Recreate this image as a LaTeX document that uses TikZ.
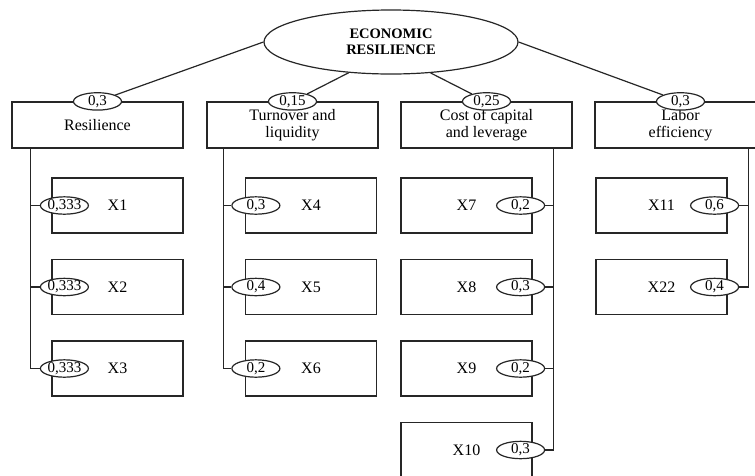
\documentclass[tikz,border=0pt]{standalone}
\usepackage{fontspec}
\setmainfont{Liberation Serif}
\usetikzlibrary{shapes.geometric}

\tikzset{
	link/.style={draw=black!85},
	group/.style={draw=black!85, minimum width=171pt, minimum height=46pt, align=center,
		font=\fontsize{16}{17}\selectfont},
	item/.style={draw=black!85, minimum width=131pt, minimum height=55pt,
		font=\fontsize{16}{17}\selectfont},
	weight/.style={ellipse, draw=black!85, fill=white, minimum width=48pt, minimum height=16pt,
		inner sep=0pt, font=\fontsize{15}{15}\selectfont}
}

\begin{document}
\begin{tikzpicture}[x=1pt,y=-1pt,line width=1.2pt]
\useasboundingbox (0,0) rectangle (755,475);
\clip (0,0) rectangle (755,475);

\node[ellipse, draw=black!85, minimum width=254pt, minimum height=64pt, inner sep=0pt, align=center,
	font=\bfseries\fontsize{14.5}{16}\selectfont] (root) at (391,42) {ECONOMIC\\RESILIENCE};

% groups
\node[group] (g1) at (97.5,125) {Resilience};
\node[group] (g2) at (292.5,125) {Turnover and\\liquidity};
\node[group] (g3) at (486.5,125) {Cost of capital\\and leverage};
\node[group] (g4) at (680.5,125) {Labor\\efficiency};

\node[weight] (w1) at (g1.north) {0,3};
\node[weight] (w2) at (g2.north) {0,15};
\node[weight] (w3) at (g3.north) {0,25};
\node[weight] (w4) at (g4.north) {0,3};

\draw[link] (root.west) -- (w1);
\draw[link] (root.216) -- (w2);
\draw[link] (root.322) -- (w3);
\draw[link] (root.east) -- (w4);

\coordinate (s1) at ([xshift=19pt]g1.south west);
\coordinate (s2) at ([xshift=17pt]g2.south west);
\coordinate (s3) at ([xshift=-19pt]g3.south east);
\coordinate (s4) at ([xshift=-18pt]g4.south east);

% indicators
\foreach \lbl/\wt [count=\i] in {X1/{0,333},X2/{0,333},X3/{0,333}}{
	\node[item] (a\i) at (117.5,{205.5+81.5*(\i-1)}) {\lbl};
	\node[weight] (wa\i) at ([xshift=13pt]a\i.west) {\wt};
	\draw[link] (s1) |- (wa\i);
}
\foreach \lbl/\wt [count=\i] in {X4/{0,3},X5/{0,4},X6/{0,2}}{
	\node[item] (b\i) at (311,{205.5+81.5*(\i-1)}) {\lbl};
	\node[weight] (wb\i) at ([xshift=11pt]b\i.west) {\wt};
	\draw[link] (s2) |- (wb\i);
}
\foreach \lbl/\wt [count=\i] in {X7/{0,2},X8/{0,3},X9/{0,2},X10/{0,3}}{
	\node[item] (c\i) at (466.5,{205.5+81.5*(\i-1)}) {\lbl};
	\node[weight] (wc\i) at ([xshift=-12pt]c\i.east) {\wt};
	\draw[link] (s3) |- (wc\i);
}
\foreach \lbl/\wt [count=\i] in {X11/{0,6},X22/{0,4}}{
	\node[item] (d\i) at (661.5,{205.5+81.5*(\i-1)}) {\lbl};
	\node[weight] (wd\i) at ([xshift=-13pt]d\i.east) {\wt};
	\draw[link] (s4) |- (wd\i);
}
\end{tikzpicture}
\end{document}
